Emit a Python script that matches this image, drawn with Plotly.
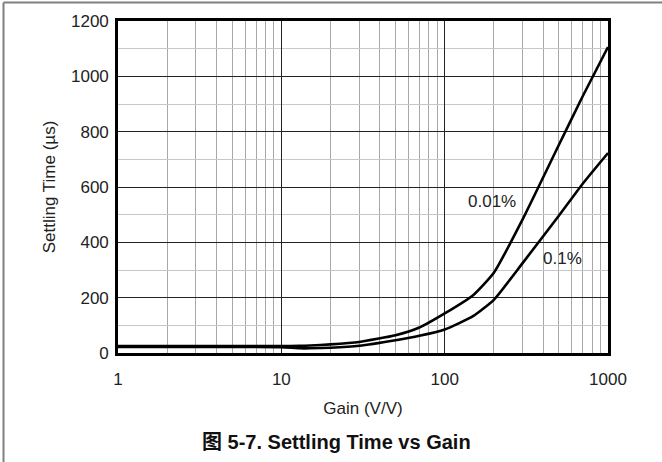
import plotly.graph_objects as go

gain = [1, 2, 5, 10, 13, 15, 20, 30, 50, 70, 100, 150, 200, 300, 500, 700, 1000]
settle_001 = [25, 25, 25, 25, 26, 27, 31, 40, 64, 92, 143, 210, 290, 483, 752, 928, 1106]
settle_01 = [22, 22, 22, 21, 17, 17, 19, 26, 46, 62, 85, 134, 192, 325, 496, 612, 723]
x_ticks = [1, 10, 100, 1000]
y_ticks = [0, 200, 400, 600, 800, 1000, 1200]

L, R, T, B = 118, 54, 21, 109
W, H = 662, 462
pw, ph = W - L - R, H - T - B


def px_x(px):
    return (px - L) / pw


def px_y(py):
    return (H - B - py) / ph


fig = go.Figure()
for ys in (settle_001, settle_01):
    fig.add_trace(go.Scatter(x=gain, y=ys, mode="lines",
                             line=dict(color="black", width=2.6, shape="spline", smoothing=0.5),
                             showlegend=False, hoverinfo="skip"))

font = "Liberation Sans, Arial, sans-serif"
fig.update_layout(
    width=W, height=H, margin=dict(l=L, r=R, t=T, b=B),
    paper_bgcolor="white", plot_bgcolor="white",
    font=dict(family=font, color="#222", size=17),
    xaxis=dict(type="log", range=[0, 3], tickvals=x_ticks, ticktext=[str(v) for v in x_ticks],
               showgrid=True, gridcolor="#222", gridwidth=1.2,
               minor=dict(dtick="D1", showgrid=True, gridcolor="#a8a8a8", gridwidth=1, ticks=""),
               showline=True, linecolor="black", linewidth=2.6, mirror=True,
               ticks="", ticklabelstandoff=9, tickfont=dict(size=17),
               title=dict(text="Gain (V/V)", font=dict(size=17), standoff=14),
               zeroline=False),
    yaxis=dict(range=[0, 1200], tickvals=y_ticks,
               showgrid=True, gridcolor="#222", gridwidth=1.2,
               minor=dict(dtick=100, showgrid=True, gridcolor="#c8c8c8", gridwidth=1, ticks=""),
               showline=True, linecolor="black", linewidth=2.6, mirror=True,
               ticks="", ticklabelstandoff=3, tickfont=dict(size=17),
               title=dict(text="Settling Time (µs)", font=dict(size=17), standoff=12),
               zeroline=False),
)

fig.add_annotation(x=2.29, y=546, xref="x", yref="y", text="0.01%", showarrow=False,
                   font=dict(size=17, color="#222"))
fig.add_annotation(x=2.724, y=340, xref="x", yref="y", text="0.1%", showarrow=False,
                   font=dict(size=17, color="#222"))

fig.add_annotation(x=px_x(336), y=px_y(442), xref="paper", yref="paper",
                   xanchor="center", yanchor="middle",
                   text="<b>图 5-7. Settling Time vs Gain</b>", showarrow=False,
                   font=dict(size=20, color="#111", family="Liberation Sans, Arial, Noto Sans CJK SC, sans-serif"))

# outer frame (top and left edges)
fig.add_shape(type="line", xref="paper", yref="paper", x0=px_x(3.5), x1=px_x(W), y0=px_y(2.5), y1=px_y(2.5),
              line=dict(color="#808080", width=2))
fig.add_shape(type="line", xref="paper", yref="paper", x0=px_x(3.5), x1=px_x(3.5), y0=px_y(2.5), y1=px_y(H),
              line=dict(color="#808080", width=2))

fig.write_html("out.html")
